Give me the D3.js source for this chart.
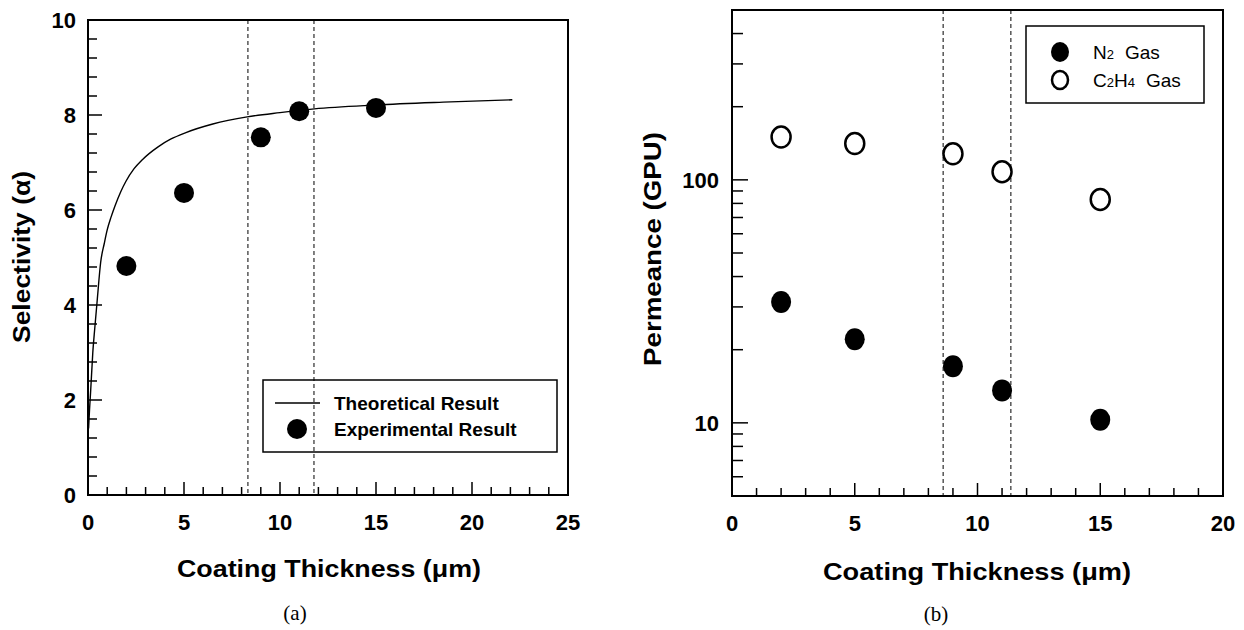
<!DOCTYPE html>
<html>
<head>
<meta charset="utf-8">
<script src="https://cdn.jsdelivr.net/npm/d3@7"></script>
<style>
  html, body { margin: 0; padding: 0; background: #fff; }
  svg { display: block; }
  text { font-family: "Liberation Sans", Arial, sans-serif; fill: #000; }
</style>
</head>
<body>
<svg id="chart" width="1244" height="630"></svg>
<script>
// ---------- DATA ----------
// Panel (a): selectivity vs coating thickness
const thicknessA = [2, 5, 9, 11, 15];
const selectivityExp = [4.82, 6.36, 7.53, 8.08, 8.15];
// Theoretical curve, points
const theoryX = [0.03, 0.08, 0.14, 0.25, 0.35, 0.48, 0.66, 0.85, 1.0, 1.2, 1.4, 1.7, 1.97, 2.4, 2.83, 3.65, 4.3, 5.1, 6.5, 8.29, 10.0, 11.79, 14.98, 18.5, 22.1];
const theoryY = [1.4, 1.8, 2.2, 3.0, 3.5, 4.1, 4.9, 5.3, 5.58, 5.85, 6.08, 6.38, 6.6, 6.87, 7.06, 7.33, 7.49, 7.63, 7.81, 7.96, 8.05, 8.13, 8.21, 8.27, 8.32];
const dashedA = [8.33, 11.77];
const xTicksA = [0, 5, 10, 15, 20, 25];
const yTicksA = [0, 2, 4, 6, 8, 10];

// Panel (b): permeance vs coating thickness
const thicknessB = [2, 5, 9, 11, 15];
const permN2 = [31.4, 22.1, 17.1, 13.6, 10.3];
const permC2H4 = [150, 141, 128, 108, 83];
const dashedB = [8.6, 11.36];
const xTicksB = [0, 5, 10, 15, 20];
const yTicksB = [10, 100];
const yMinorB = [6, 7, 8, 9, 20, 30, 40, 50, 60, 70, 80, 90, 200, 300, 400];

const legendA = ["Theoretical Result", "Experimental Result"];

// ---------- DRAW ----------
const svg = d3.select("#chart");
const tickFont = "bold 22px 'Liberation Sans', Arial, sans-serif";
const titleFont = "bold 24px 'Liberation Sans', Arial, sans-serif";

function frame(g, x0, x1, y0, y1) {
  g.append("rect").attr("x", x0).attr("y", y1).attr("width", x1 - x0).attr("height", y0 - y1)
    .attr("fill", "none").attr("stroke", "#000").attr("stroke-width", 2);
}

// ===== Panel (a) =====
const xA = d3.scaleLinear().domain([0, 25]).range([88, 568]);
const yA = d3.scaleLinear().domain([0, 10]).range([495, 20]);
const gA = svg.append("g");

gA.selectAll("line.dashA").data(dashedA).join("line")
  .attr("x1", d => xA(d)).attr("x2", d => xA(d))
  .attr("y1", yA(10)).attr("y2", yA(0))
  .attr("stroke", "#000").attr("stroke-width", 1).attr("stroke-dasharray", "4,3");

const xMinorA = d3.range(0, 26, 1);
gA.selectAll("line.xtA").data(xMinorA).join("line")
  .attr("x1", d => xA(d)).attr("x2", d => xA(d))
  .attr("y1", yA(0)).attr("y2", d => yA(0) - (d % 5 === 0 ? 13 : 8))
  .attr("stroke", "#000").attr("stroke-width", 1.5);
const yMinorA = d3.range(0, 10.01, 0.4);
gA.selectAll("line.ytA").data(yMinorA).join("line")
  .attr("x1", xA(0)).attr("x2", d => xA(0) + (Math.abs(d / 2 - Math.round(d / 2)) < 1e-6 ? 14 : 9))
  .attr("y1", d => yA(d)).attr("y2", d => yA(d))
  .attr("stroke", "#000").attr("stroke-width", 1.5);

frame(gA, xA(0), xA(25), yA(0), yA(10));

gA.selectAll("text.xlA").data(xTicksA).join("text")
  .attr("x", d => xA(d)).attr("y", 530)
  .attr("text-anchor", "middle").style("font", tickFont).text(d => d);
gA.selectAll("text.ylA").data(yTicksA).join("text")
  .attr("x", 76).attr("y", d => yA(d) + 8)
  .attr("text-anchor", "end").style("font", tickFont).text(d => d);

const curvePts = theoryX.map((x, i) => [x, theoryY[i]]);
gA.append("path").datum(curvePts)
  .attr("d", d3.line().x(d => xA(d[0])).y(d => yA(d[1])).curve(d3.curveMonotoneX))
  .attr("fill", "none").attr("stroke", "#000").attr("stroke-width", 1.4);

gA.selectAll("circle.ptA").data(thicknessA).join("circle")
  .attr("cx", d => xA(d)).attr("cy", (d, i) => yA(selectivityExp[i])).attr("r", 10)
  .attr("fill", "#000");

const lgA = gA.append("g");
lgA.append("rect").attr("x", 263).attr("y", 380).attr("width", 294).attr("height", 72)
  .attr("fill", "none").attr("stroke", "#000").attr("stroke-width", 1.5);
lgA.append("line").attr("x1", 275).attr("x2", 320).attr("y1", 403).attr("y2", 403)
  .attr("stroke", "#000").attr("stroke-width", 1.4);
lgA.append("circle").attr("cx", 297).attr("cy", 429).attr("r", 10).attr("fill", "#000");
lgA.selectAll("text").data(legendA).join("text")
  .attr("x", 334).attr("y", (d, i) => 410 + i * 26)
  .style("font", "bold 19px 'Liberation Sans', Arial, sans-serif").text(d => d);

gA.append("text").attr("x", 329).attr("y", 577).attr("text-anchor", "middle")
  .attr("textLength", 304).attr("lengthAdjust", "spacingAndGlyphs")
  .style("font", titleFont).text("Coating Thickness (\u03bcm)");
gA.append("text").attr("transform", "translate(30,257) rotate(-90)").attr("text-anchor", "middle")
  .attr("textLength", 172).attr("lengthAdjust", "spacingAndGlyphs")
  .style("font", titleFont).text("Selectivity (\u03b1)");
gA.append("text").attr("x", 295).attr("y", 620).attr("text-anchor", "middle")
  .style("font", "21px 'Liberation Serif', 'Times New Roman', serif").text("(a)");

// ===== Panel (b) =====
const xB = d3.scaleLinear().domain([0, 20]).range([732, 1223]);
const yB = d3.scaleLog().domain([5, 500]).range([496, 10]);
const gB = svg.append("g");

gB.selectAll("line.dashB").data(dashedB).join("line")
  .attr("x1", d => xB(d)).attr("x2", d => xB(d))
  .attr("y1", yB(500)).attr("y2", yB(5))
  .attr("stroke", "#000").attr("stroke-width", 1).attr("stroke-dasharray", "4,3");

const xMinorB = d3.range(0, 21, 1);
gB.selectAll("line.xtB").data(xMinorB).join("line")
  .attr("x1", d => xB(d)).attr("x2", d => xB(d))
  .attr("y1", yB(5)).attr("y2", d => yB(5) - (d % 5 === 0 ? 13 : 8))
  .attr("stroke", "#000").attr("stroke-width", 1.5);
gB.selectAll("line.ytB").data(yMinorB).join("line")
  .attr("x1", xB(0)).attr("x2", xB(0) + 11)
  .attr("y1", d => yB(d)).attr("y2", d => yB(d))
  .attr("stroke", "#000").attr("stroke-width", 1.5);
gB.selectAll("line.ytBM").data(yTicksB).join("line")
  .attr("x1", xB(0)).attr("x2", xB(0) + 16)
  .attr("y1", d => yB(d)).attr("y2", d => yB(d))
  .attr("stroke", "#000").attr("stroke-width", 1.5);

frame(gB, xB(0), xB(20), yB(5), yB(500));

gB.selectAll("text.xlB").data(xTicksB).join("text")
  .attr("x", d => xB(d)).attr("y", 531)
  .attr("text-anchor", "middle").style("font", tickFont).text(d => d);
gB.selectAll("text.ylB").data(yTicksB).join("text")
  .attr("x", 719).attr("y", d => yB(d) + 8)
  .attr("text-anchor", "end").style("font", tickFont).text(d => d);

gB.selectAll("ellipse.n2").data(thicknessB).join("ellipse")
  .attr("cx", d => xB(d)).attr("cy", (d, i) => yB(permN2[i])).attr("rx", 10).attr("ry", 11)
  .attr("fill", "#000");
gB.selectAll("ellipse.c2").data(thicknessB).join("ellipse")
  .attr("cx", d => xB(d)).attr("cy", (d, i) => yB(permC2H4[i])).attr("rx", 9.5).attr("ry", 10.5)
  .attr("fill", "#fff").attr("stroke", "#000").attr("stroke-width", 2.5);

const lgB = gB.append("g");
lgB.append("rect").attr("x", 1026).attr("y", 26).attr("width", 178).attr("height", 77)
  .attr("fill", "#fff").attr("stroke", "#000").attr("stroke-width", 1.5);
lgB.append("ellipse").attr("cx", 1060).attr("cy", 52).attr("rx", 9).attr("ry", 10).attr("fill", "#000");
lgB.append("ellipse").attr("cx", 1060).attr("cy", 80).attr("rx", 8).attr("ry", 9)
  .attr("fill", "#fff").attr("stroke", "#000").attr("stroke-width", 2.5);
const lgFont = "19px 'Liberation Sans', Arial, sans-serif";
const t1 = lgB.append("text").attr("x", 1093).attr("y", 59).style("font", lgFont);
t1.append("tspan").text("N");
t1.append("tspan").style("font-size", "13px").text("2");
t1.append("tspan").attr("dx", 11).text("Gas");
const t2 = lgB.append("text").attr("x", 1093).attr("y", 87).style("font", lgFont);
t2.append("tspan").text("C");
t2.append("tspan").style("font-size", "13px").text("2");
t2.append("tspan").text("H");
t2.append("tspan").style("font-size", "13px").text("4");
t2.append("tspan").attr("dx", 11).text("Gas");

gB.append("text").attr("x", 977).attr("y", 580).attr("text-anchor", "middle")
  .attr("textLength", 308).attr("lengthAdjust", "spacingAndGlyphs")
  .style("font", titleFont).text("Coating Thickness (\u03bcm)");
gB.append("text").attr("transform", "translate(661,249) rotate(-90)").attr("text-anchor", "middle")
  .attr("textLength", 234).attr("lengthAdjust", "spacingAndGlyphs")
  .style("font", titleFont).text("Permeance (GPU)");
gB.append("text").attr("x", 936).attr("y", 621).attr("text-anchor", "middle")
  .style("font", "21px 'Liberation Serif', 'Times New Roman', serif").text("(b)");
</script>
</body>
</html>
